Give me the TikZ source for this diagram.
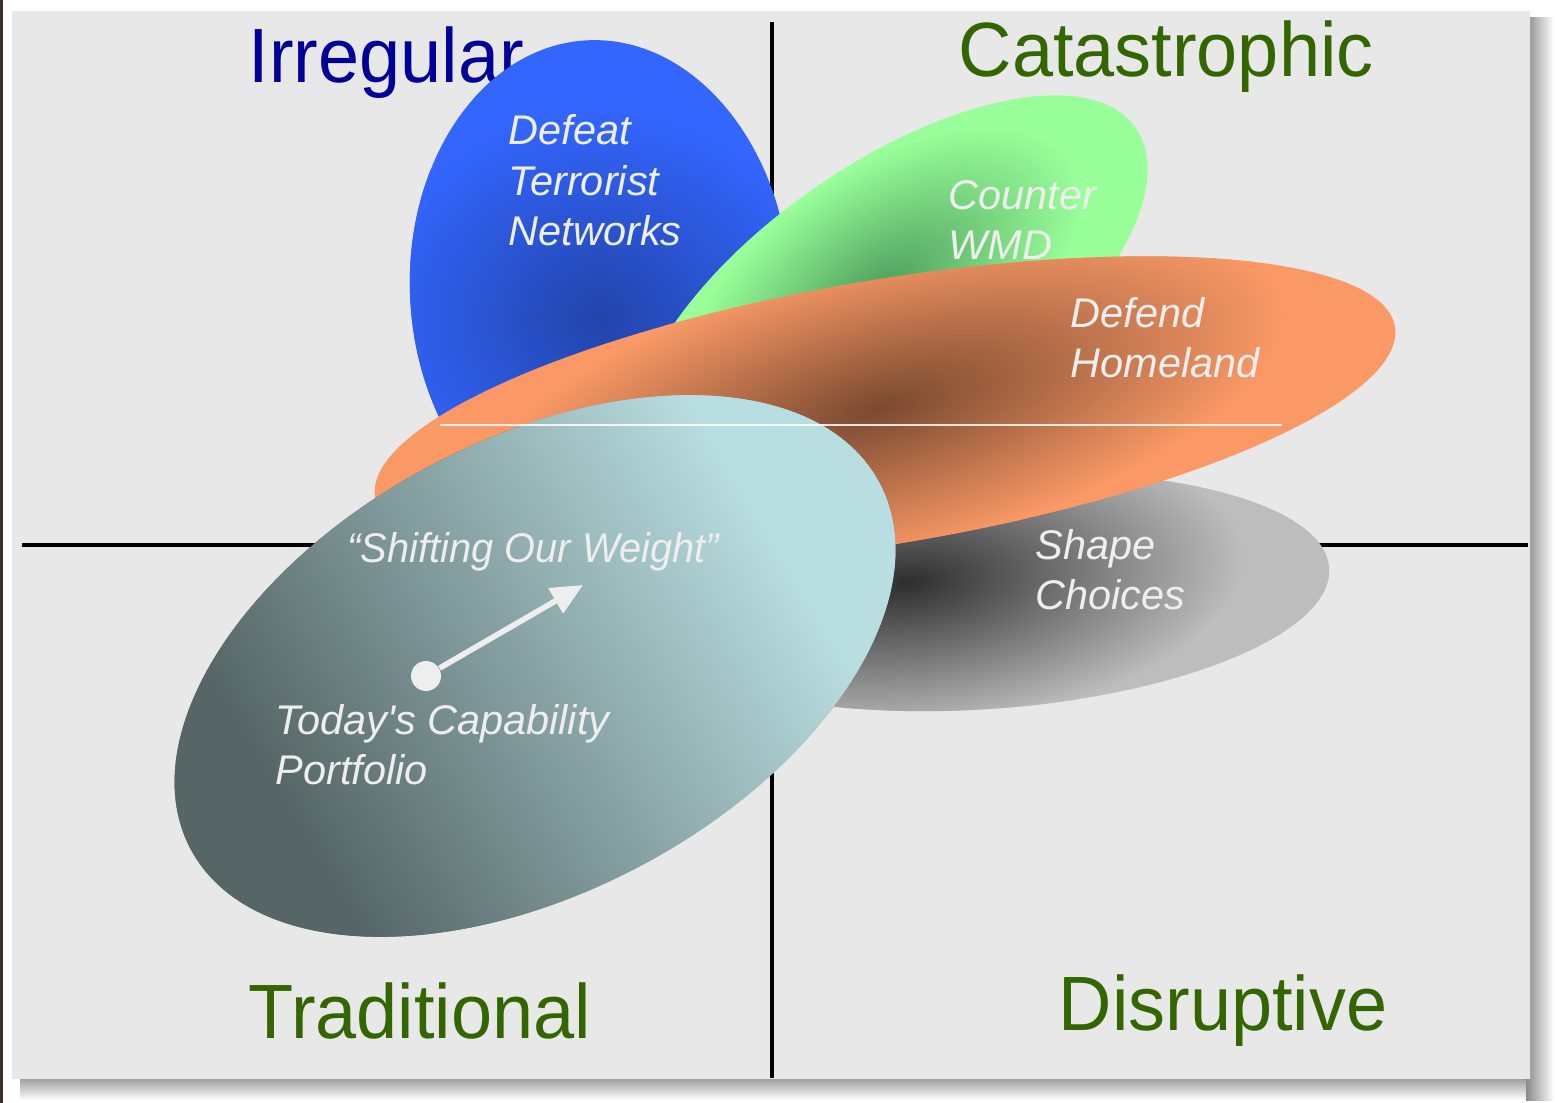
\documentclass[tikz,border=0pt]{standalone}
\usepackage{fontspec}
\setmainfont{Liberation Sans}
\newfontfamily\quadfont[FakeStretch=0.96]{Liberation Sans}
\usetikzlibrary{arrows.meta}

\definecolor{panel}{HTML}{DDDDDD}
\definecolor{panellight}{HTML}{E8E8E8}
\definecolor{shadowdark}{HTML}{8A8A8A}
\definecolor{leftedge}{HTML}{3A2E28}
\definecolor{irregblue}{HTML}{000099}
\definecolor{quadgreen}{HTML}{336600}
\definecolor{blueout}{HTML}{3366FF}
\definecolor{bluein}{HTML}{2244AA}
\definecolor{greenout}{HTML}{99FF99}
\definecolor{greenin}{HTML}{4E9E5E}
\definecolor{orangeout}{HTML}{FA9966}
\definecolor{orangein}{HTML}{7A4A30}
\definecolor{grayout}{HTML}{BDBDBD}
\definecolor{grayin}{HTML}{2E2E2E}
\definecolor{tealdark}{HTML}{566666}
\definecolor{tealmid}{HTML}{8AA3A5}
\definecolor{teallight}{HTML}{B9DEE1}
\definecolor{labelwhite}{HTML}{EEEEEE}

\tikzset{
  quadlabel/.style={anchor=base west, inner sep=0, font=\quadfont\fontsize{21.9}{26}\selectfont},
  arealabel/.style={anchor=base west, inner sep=0, align=left, text=labelwhite,
    font=\itshape\fontsize{11.8}{14.5}\selectfont},
}

\begin{document}
\begin{tikzpicture}[x=0.1mm, y=-0.1mm, >={Triangle[length=9pt, width=8pt]}]
  \useasboundingbox (0,0) rectangle (1558,1103);
  \fill[white] (0,0) rectangle (1558,1103);
  \fill[leftedge] (0,0) rectangle (3,1103);

  % shadow and panel
  \shade[top color=shadowdark, bottom color=white] (20,1074) rectangle (1550,1100);
  \shade[left color=shadowdark, right color=white] (1526,18) rectangle (1554,1100);
  \shade[left color=panellight, middle color=panel, right color=panellight] (12,12) rectangle (1530,1078);

  % axes
  \draw[line width=1pt] (772,22) -- (772,1078);
  \draw[line width=1.1pt] (22,545) -- (1528,545);

  % quadrant names
  \foreach \i/\x/\y/\txt/\col in {irregular/248/83/Irregular/irregblue,
      catastrophic/958/77/Catastrophic/quadgreen,
      traditional/248/1038/Traditional/quadgreen,
      disruptive/1058/1030/Disruptive/quadgreen} {
    \node[quadlabel, text=\col] (\i) at (\x,\y) {\txt};
  }

  % mission ellipses: centre, angle, radii, dark spot, colours
  \foreach \cx/\cy/\ang/\ra/\rb/\sx/\sy/\sa/\srx/\sry/\base/\dark in {
      600/290/3/190/250/600/318/0/240/210/blueout/bluein,
      890/300/35/300/135/880/290/35/230/120/greenout/greenin,
      985/592/4/345/117/905/582/5/340/150/grayout/grayin,
      885/412/9.5/517/132/878/408/15/420/150/orangeout/orangein} {
    \begin{scope}
      \clip[rotate around={\ang:(\cx,\cy)}] (\cx,\cy) ellipse ({\ra} and {\rb});
      \fill[\base] (0,0) rectangle (1558,1103);
      \begin{scope}[transform canvas={rotate around={\sa:(\sx,\sy)}}]
        \shade[inner color=\dark, outer color=\base] (\sx,\sy) ellipse ({\srx} and {\sry});
      \end{scope}
    \end{scope}
  }

  % today's portfolio
  \begin{scope}
    \clip[rotate around={28:(535,666)}] (535,666) ellipse (390 and 226);
    \fill[tealdark] (0,0) rectangle (1558,1103);
    \fill[teallight] (520,0) rectangle (1558,1103);
    \begin{scope}[transform canvas={rotate around={31:(520,650)}}]
      \fill[tealdark] (-600,-200) rectangle (241,1500);
      \fill[teallight] (799,-200) rectangle (1600,1500);
      \shade[left color=tealdark, middle color=tealmid, right color=teallight]
        (240,-200) rectangle (800,1500);
    \end{scope}
  \end{scope}

  % seam across the shapes
  \draw[white, opacity=0.85, line width=0.3pt] (440,425) -- (1282,425);

  \node[arealabel] (defeat) at (508,246) {Defeat\\Terrorist\\Networks};
  \node[arealabel] (counter) at (948,260) {Counter\\WMD};
  \node[arealabel] (defend) at (1070,378) {Defend\\Homeland};
  \node[arealabel] (shape) at (1035,610) {Shape\\Choices};
  \node[arealabel] (today) at (275,785) {Today\textquotesingle s Capability\\Portfolio};
  \node[arealabel, font=\quadfont\itshape\fontsize{11.8}{14.5}\selectfont] (shifting) at (347,563) {“Shifting Our Weight”};

  \node[circle, fill=labelwhite, inner sep=0, minimum size=3mm] (dot) at (426,676) {};
  \coordinate (tip) at (583,585);
  \draw[->, labelwhite, line width=1.6pt] (dot) -- (tip);
\end{tikzpicture}
\end{document}
